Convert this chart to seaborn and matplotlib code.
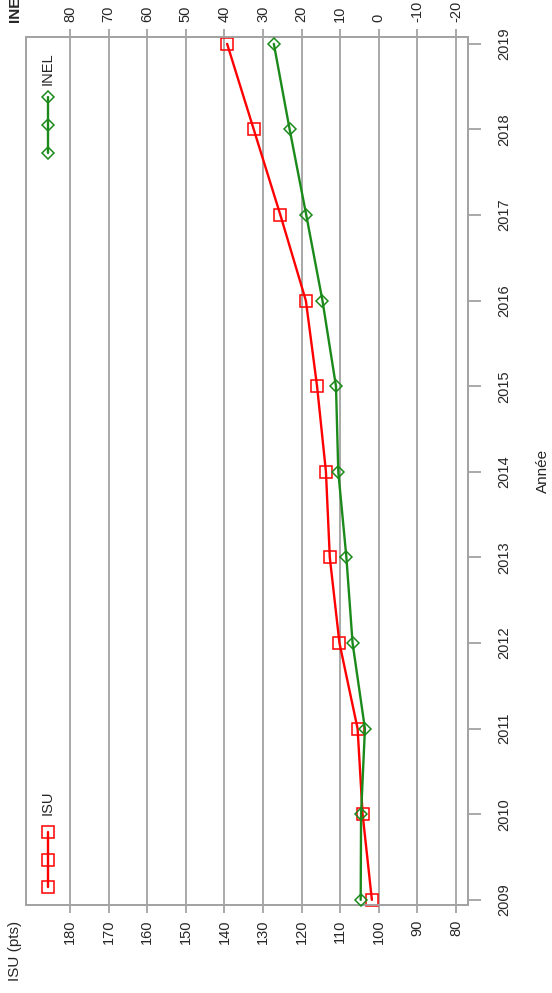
import matplotlib
matplotlib.use('Agg')
import matplotlib.pyplot as plt
import pandas as pd
import seaborn as sns

# valeurs
annees = [2009, 2010, 2011, 2012, 2013, 2014, 2015, 2016, 2017, 2018, 2019]
isu = [101.8, 104.2, 105.5, 110.2, 112.7, 113.7, 116.0, 118.9, 125.5, 132.4, 139.3]
inel = [4.7, 4.6, 3.6, 6.8, 8.4, 10.5, 11.1, 14.6, 18.8, 23.1, 27.2]

isu_ticks = list(range(80, 181, 10))
inel_ticks = list(range(-20, 81, 10))

df = pd.DataFrame({'Année': annees, 'ISU': isu, 'INEL': inel})

sns.set_style('white')
plt.rcParams['font.family'] = ['Liberation Sans', 'DejaVu Sans']
plt.rcParams['axes.unicode_minus'] = False

rouge = '#ff0000'
vert = '#1b8a1b'
gris = '#a3a3a3'
W, H = 552, 993

fig = plt.figure(figsize=(W / 100, H / 100), dpi=100)
# graphique tourne de 90 degres : annees a la verticale
ax = fig.add_axes([26 / W, 1 - 905 / H, 442 / W, 868 / H])
ax2 = ax.twiny()

sns.lineplot(data=df, x='ISU', y='Année', sort=False, estimator=None, ax=ax,
             color=rouge, lw=1.7, marker='s', markersize=9,
             markerfacecolor='none', markeredgecolor=rouge, markeredgewidth=1.1,
             clip_on=False, zorder=5)
sns.lineplot(data=df, x='INEL', y='Année', sort=False, estimator=None, ax=ax2,
             color=vert, lw=1.7, marker='D', markersize=6,
             markerfacecolor='none', markeredgecolor=vert, markeredgewidth=1.1,
             clip_on=False, zorder=5)

ax.set_xlim(191.4, 76.9)
ax2.set_xlim(91.4, -23.1)
ax.set_ylim(2008.94, 2019.08)

ax.set_xticks(isu_ticks)
ax2.set_xticks(inel_ticks)
ax.set_yticks(annees)
ax.grid(axis='x', color=gris, lw=1.3)
ax.grid(axis='y', visible=False)

for a in (ax, ax2):
    for s in a.spines.values():
        s.set_color(gris)
        s.set_linewidth(1.3)
    a.set_xlabel('')
    a.set_ylabel('')

ax.tick_params(axis='x', bottom=True, direction='out', length=6, width=1.3,
               color=gris, pad=4.5, labelsize=10.5, labelrotation=90)
ax2.tick_params(axis='x', top=True, direction='out', length=6, width=1.3,
                color=gris, pad=5, labelsize=10.5, labelrotation=90)
ax.yaxis.tick_right()
ax.tick_params(axis='y', right=True, left=False, direction='out', length=9.5,
               width=1.3, color=gris, pad=11.5, labelsize=10.5)
for lab in ax.get_yticklabels():
    lab.set_rotation(90)
    lab.set_va('center')

# legendes (tournees elles aussi)
ax.plot([0.05, 0.05, 0.05], [0.931, 0.899, 0.866], transform=ax.transAxes,
        color=vert, lw=1.7, marker='D', markersize=6, markerfacecolor='none',
        markeredgewidth=1.1, clip_on=False, zorder=6)
ax.text(0.05, 0.945, 'INEL', transform=ax.transAxes, rotation=90,
        ha='center', va='bottom', fontsize=10.5)
ax.plot([0.05, 0.05, 0.05], [0.084, 0.052, 0.021], transform=ax.transAxes,
        color=rouge, lw=1.7, marker='s', markersize=9, markerfacecolor='none',
        markeredgewidth=1.1, clip_on=False, zorder=6)
ax.text(0.05, 0.104, 'ISU', transform=ax.transAxes, rotation=90,
        ha='center', va='bottom', fontsize=10.5)

# titres des axes
fig.text(15 / W, 1 - 951 / H, 'ISU (pts)', rotation=90, ha='center',
         va='center', fontsize=11)
fig.text(15 / W, 1 - 22 / H, 'INEL', rotation=90, ha='center',
         va='bottom', fontsize=11, fontweight='bold')
fig.text(543 / W, 1 - 471 / H, 'Année', rotation=90, ha='center',
         va='center', fontsize=11)

fig.savefig('out.png', dpi=100)
